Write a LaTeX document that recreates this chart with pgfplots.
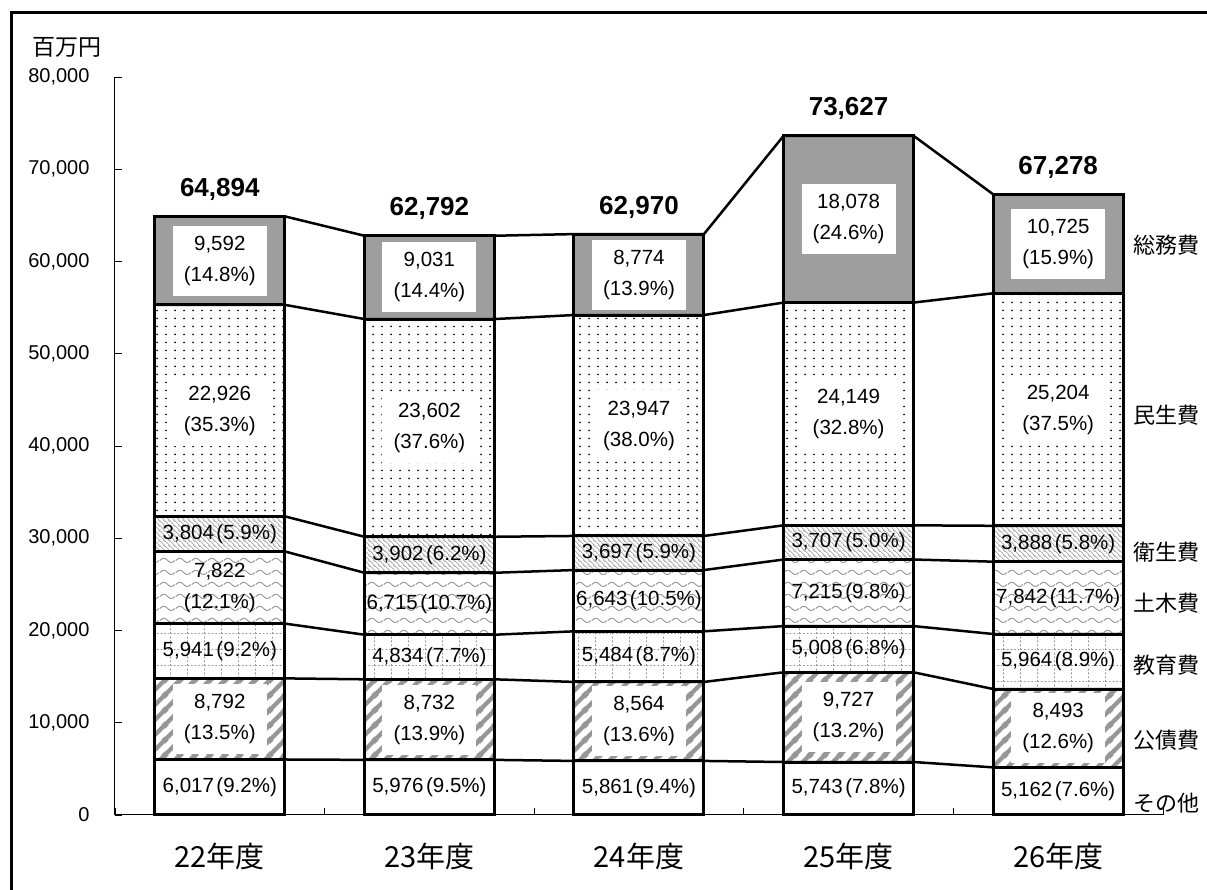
\documentclass[border=0pt]{standalone}
\usepackage{pgfplots}
\pgfplotsset{compat=1.18}
\usepackage{pgfplotstable}
\usetikzlibrary{patterns}
\usepackage{fontspec}
\setmainfont{Liberation Sans}
\newfontfamily\jp{Noto Sans CJK JP}

\definecolor{somu}{RGB}{158,158,158}
\definecolor{stripeg}{RGB}{150,150,150}
\definecolor{lightg}{RGB}{150,150,150}

% 公債費 stripes
\pgfdeclarepatternformonly{kstripes}{\pgfqpoint{0pt}{0pt}}{\pgfqpoint{15pt}{15pt}}{\pgfqpoint{15pt}{15pt}}{%
  \pgfsetlinewidth{4.5pt}%
  \pgfpathmoveto{\pgfqpoint{-1pt}{-1pt}}\pgfpathlineto{\pgfqpoint{16pt}{16pt}}%
  \pgfpathmoveto{\pgfqpoint{-4pt}{11pt}}\pgfpathlineto{\pgfqpoint{4pt}{19pt}}%
  \pgfpathmoveto{\pgfqpoint{11pt}{-4pt}}\pgfpathlineto{\pgfqpoint{19pt}{4pt}}%
  \pgfusepath{stroke}}
% 民生費 dots
\pgfdeclarepatternformonly{mdots}{\pgfqpoint{0pt}{0pt}}{\pgfqpoint{9pt}{8pt}}{\pgfqpoint{9pt}{8pt}}{%
  \pgfpathcircle{\pgfqpoint{4.5pt}{4pt}}{1pt}\pgfusepath{fill}}
% 教育費 dotted grid
\pgfdeclarepatternformonly{dgrid}{\pgfqpoint{0pt}{0pt}}{\pgfqpoint{17pt}{16pt}}{\pgfqpoint{17pt}{16pt}}{%
  \pgfsetlinewidth{0.8pt}\pgfsetdash{{2pt}{2pt}}{0pt}%
  \pgfpathmoveto{\pgfqpoint{0.5pt}{0pt}}\pgfpathlineto{\pgfqpoint{0.5pt}{16pt}}%
  \pgfpathmoveto{\pgfqpoint{0pt}{0.5pt}}\pgfpathlineto{\pgfqpoint{17pt}{0.5pt}}%
  \pgfusepath{stroke}}
% 土木費 waves
\pgfdeclarepatternformonly{waves}{\pgfqpoint{0pt}{0pt}}{\pgfqpoint{16pt}{12pt}}{\pgfqpoint{16pt}{12pt}}{%
  \pgfsetlinewidth{1pt}%
  \pgfpathmoveto{\pgfqpoint{0pt}{6pt}}%
  \pgfpathcurveto{\pgfqpoint{2.7pt}{9pt}}{\pgfqpoint{5.3pt}{9pt}}{\pgfqpoint{8pt}{6pt}}%
  \pgfpathcurveto{\pgfqpoint{10.7pt}{3pt}}{\pgfqpoint{13.3pt}{3pt}}{\pgfqpoint{16pt}{6pt}}%
  \pgfusepath{stroke}}
% 衛生費 fine diagonal
\pgfdeclarepatternformonly{fdiag}{\pgfqpoint{0pt}{0pt}}{\pgfqpoint{5pt}{5pt}}{\pgfqpoint{5pt}{5pt}}{%
  \pgfsetlinewidth{0.7pt}%
  \pgfpathmoveto{\pgfqpoint{-1pt}{6pt}}\pgfpathlineto{\pgfqpoint{6pt}{-1pt}}%
  \pgfpathmoveto{\pgfqpoint{-1pt}{1pt}}\pgfpathlineto{\pgfqpoint{1pt}{-1pt}}%
  \pgfpathmoveto{\pgfqpoint{4pt}{6pt}}\pgfpathlineto{\pgfqpoint{6pt}{4pt}}%
  \pgfusepath{stroke}}

\pgfplotstableread{
x s1 s2 s3 s4 s5 s6 s7
0 6017 8792 5941 7822 3804 22926 9592
1 5976 8732 4834 6715 3902 23602 9031
2 5861 8564 5484 6643 3697 23947 8774
3 5743 9727 5008 7215 3707 24149 18078
4 5162 8493 5964 7842 3888 25204 10725
}\parts

\pgfplotstableread{
x l1 l2 l3 l4 l5 l6 l7
-0.31 6017 14809 20750 28572 32376 55302 64894
0.31 6017 14809 20750 28572 32376 55302 64894
0.69 5976 14708 19542 26257 30159 53761 62792
1.31 5976 14708 19542 26257 30159 53761 62792
1.69 5861 14425 19909 26552 30249 54196 62970
2.31 5861 14425 19909 26552 30249 54196 62970
2.69 5743 15470 20478 27693 31400 55549 73627
3.31 5743 15470 20478 27693 31400 55549 73627
3.69 5162 13655 19619 27461 31349 56553 67278
4.31 5162 13655 19619 27461 31349 56553 67278
}\levels

\newcommand{\lp}{\kern2.5pt(}
\tikzset{
  vl/.style={font=\fontsize{20.5}{31}\selectfont, align=center, inner sep=0pt},
  vb/.style={vl, fill=white, minimum width=94pt, minimum height=70pt},
  tot/.style={font=\bfseries\fontsize{26}{30}\selectfont, inner sep=0pt, yshift=27pt},
  side/.style={font=\jp\fontsize{22}{24}\selectfont, inner sep=0pt, anchor=west},
  cat/.style={font=\jp\fontsize{29}{32}\selectfont, inner sep=0pt, yshift=-41pt},
}
\pgfplotsset{
  common/.style={
    at={(115pt,75pt)}, anchor=south west,
    scale only axis, width=1048pt, height=738pt,
    xmin=-0.5, xmax=4.5, ymin=0, ymax=80000, clip=false,
  }
}

\begin{document}
\begin{tikzpicture}
\useasboundingbox (0,0) rectangle (1207pt,890pt);
\fill[white] (0,0) rectangle (1207pt,890pt);
\draw[line width=3pt] (11.5pt,0pt) -- (11.5pt,877pt) -- (1207pt,877pt);

\begin{axis}[common,
  ybar stacked, bar width=130pt,
  axis x line*=bottom, axis y line*=left,
  axis line style={line width=1pt, -},
  xtick={-0.5,0.5,...,4.5}, xticklabels={},
  ytick={0,10000,...,80000},
  tick align=inside, major tick length=7pt,
  tick style={line width=0.8pt, black},
  scaled y ticks=false,
  /pgf/number format/1000 sep={,},
  /pgf/number format/assume math mode=true,
  yticklabel style={font=\fontsize{20}{24}\selectfont, xshift=-22pt},
]
\addplot[draw=black, line width=3pt, fill=white] table[x=x,y=s1]{\parts};
\addplot[draw=black, line width=3pt, pattern=kstripes, pattern color=stripeg] table[x=x,y=s2]{\parts};
\addplot[draw=black, line width=3pt, pattern=dgrid, pattern color=lightg] table[x=x,y=s3]{\parts};
\addplot[draw=black, line width=3pt, pattern=waves, pattern color=lightg] table[x=x,y=s4]{\parts};
\addplot[draw=black, line width=3pt, pattern=fdiag, pattern color=lightg] table[x=x,y=s5]{\parts};
\addplot[draw=black, line width=3pt, pattern=mdots, pattern color=black] table[x=x,y=s6]{\parts};
\addplot[draw=black, line width=3pt, fill=somu] table[x=x,y=s7]{\parts};
\end{axis}

\begin{axis}[common, hide axis]
\addplot[black, line width=2.5pt, mark=none] table[x=x,y=l1]{\levels};
\addplot[black, line width=2.5pt, mark=none] table[x=x,y=l2]{\levels};
\addplot[black, line width=2.5pt, mark=none] table[x=x,y=l3]{\levels};
\addplot[black, line width=2.5pt, mark=none] table[x=x,y=l4]{\levels};
\addplot[black, line width=2.5pt, mark=none] table[x=x,y=l5]{\levels};
\addplot[black, line width=2.5pt, mark=none] table[x=x,y=l6]{\levels};
\addplot[black, line width=2.5pt, mark=none] table[x=x,y=l7]{\levels};

% 22
\node[vl] at (axis cs:0,3008) {6,017\lp9.2\%)};
\node[vb] at (axis cs:0,10413) {8,792\\(13.5\%)};
\node[vl] at (axis cs:0,17780) {5,941\lp9.2\%)};
\node[vl] at (axis cs:0,24661) {7,822\\(12.1\%)};
\node[vl] at (axis cs:0,30474) {3,804\lp5.9\%)};
\node[vb] at (axis cs:0,43839) {22,926\\(35.3\%)};
\node[vb] at (axis cs:0,60098) {9,592\\(14.8\%)};
% 23
\node[vl] at (axis cs:1,2988) {5,976\lp9.5\%)};
\node[vb] at (axis cs:1,10342) {8,732\\(13.9\%)};
\node[vl] at (axis cs:1,17125) {4,834\lp7.7\%)};
\node[vl] at (axis cs:1,22900) {6,715\lp10.7\%)};
\node[vl] at (axis cs:1,28208) {3,902\lp6.2\%)};
\node[vb] at (axis cs:1,41960) {23,602\\(37.6\%)};
\node[vb] at (axis cs:1,58277) {9,031\\(14.4\%)};
% 24
\node[vl] at (axis cs:2,2931) {5,861\lp9.4\%)};
\node[vb] at (axis cs:2,10143) {8,564\\(13.6\%)};
\node[vl] at (axis cs:2,17167) {5,484\lp8.7\%)};
\node[vl] at (axis cs:2,23231) {6,643\lp10.5\%)};
\node[vl] at (axis cs:2,28401) {3,697\lp5.9\%)};
\node[vb] at (axis cs:2,42223) {23,947\\(38.0\%)};
\node[vb] at (axis cs:2,58583) {8,774\\(13.9\%)};
% 25
\node[vl] at (axis cs:3,2872) {5,743\lp7.8\%)};
\node[vb] at (axis cs:3,10607) {9,727\\(13.2\%)};
\node[vl] at (axis cs:3,17974) {5,008\lp6.8\%)};
\node[vl] at (axis cs:3,24086) {7,215\lp9.8\%)};
\node[vl] at (axis cs:3,29547) {3,707\lp5.0\%)};
\node[vb] at (axis cs:3,43475) {24,149\\(32.8\%)};
\node[vb] at (axis cs:3,64588) {18,078\\(24.6\%)};
% 26
\node[vl] at (axis cs:4,2581) {5,162\lp7.6\%)};
\node[vb] at (axis cs:4,9409) {8,493\\(12.6\%)};
\node[vl] at (axis cs:4,16637) {5,964\lp8.9\%)};
\node[vl] at (axis cs:4,23540) {7,842\lp11.7\%)};
\node[vl] at (axis cs:4,29405) {3,888\lp5.8\%)};
\node[vb] at (axis cs:4,43951) {25,204\\(37.5\%)};
\node[vb] at (axis cs:4,61916) {10,725\\(15.9\%)};

% totals
\node[tot] at (axis cs:0,64894) {64,894};
\node[tot] at (axis cs:1,62792) {62,792};
\node[tot] at (axis cs:2,62970) {62,970};
\node[tot] at (axis cs:3,73627) {73,627};
\node[tot] at (axis cs:4,67278) {67,278};

% side labels
\node[side] at (axis cs:4.357,61790) {総務費};
\node[side] at (axis cs:4.357,43360) {民生費};
\node[side] at (axis cs:4.357,28510) {衛生費};
\node[side] at (axis cs:4.357,22980) {土木費};
\node[side] at (axis cs:4.357,16260) {教育費};
\node[side] at (axis cs:4.357,8130) {公債費};
\node[side] at (axis cs:4.357,1300) {その他};

% categories
\node[cat] at (axis cs:0,0) {22年度};
\node[cat] at (axis cs:1,0) {23年度};
\node[cat] at (axis cs:2,0) {24年度};
\node[cat] at (axis cs:3,0) {25年度};
\node[cat] at (axis cs:4,0) {26年度};
\end{axis}

\node[font=\jp\fontsize{23}{26}\selectfont, inner sep=0pt] at (67pt,843pt) {百万円};
\end{tikzpicture}
\end{document}
